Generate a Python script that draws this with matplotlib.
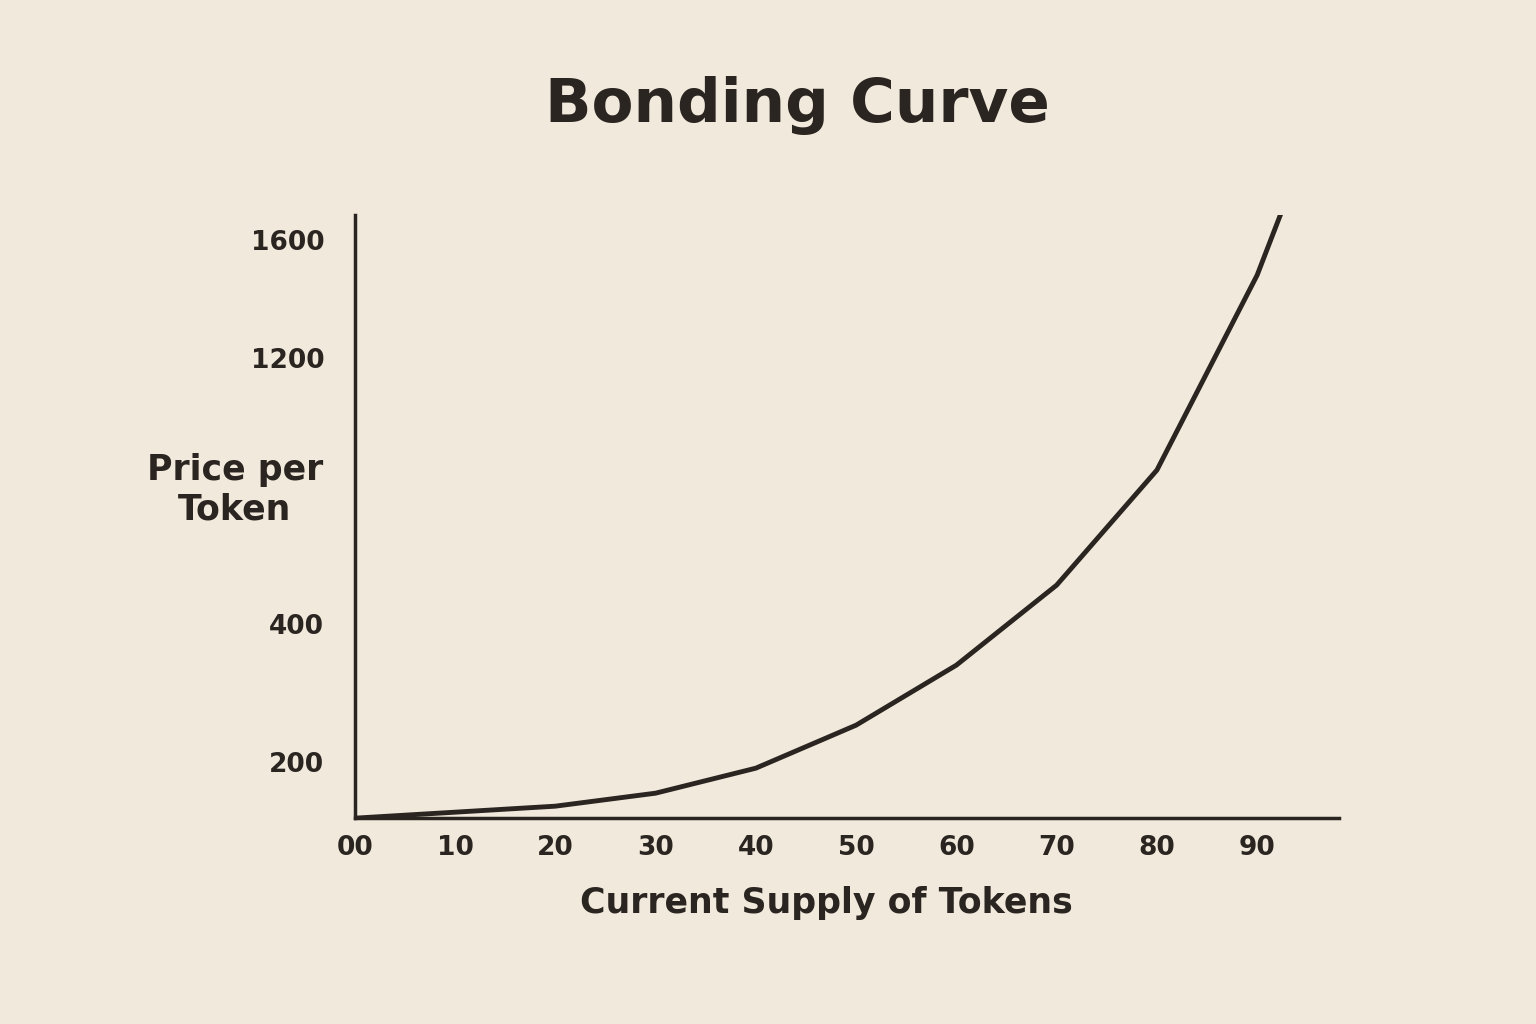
import matplotlib
matplotlib.use("Agg")
import matplotlib.pyplot as plt
import numpy as np
from matplotlib.ticker import FixedLocator, FixedFormatter

# Curve as drawn (y in the chart's own visual axis units)
supply = [0, 10, 20, 30, 40, 50, 60, 70, 80, 90, 92.5]
price_visual = [0, 6, 12, 25, 50, 93, 153, 233, 348, 543, 608]
x_ticks = [0, 10, 20, 30, 40, 50, 60, 70, 80, 90]
x_labels = ["00", "10", "20", "30", "40", "50", "60", "70", "80", "90"]
y_ticks = [56, 194, 460, 578]
y_labels = ["200", "400", "1200", "1600"]

bg = "#f0e9dc"
ink = "#2a2520"
plt.rcParams['font.family'] = ['DejaVu Sans']

fig = plt.figure(figsize=(15.36, 10.24), dpi=100, facecolor=bg)
ax = fig.add_axes([0.231, 0.201, 0.641, 0.589], facecolor=bg)

# smooth monotone interpolation for drawing
xs = np.linspace(0, 92.5, 400)
from numpy import interp
# cubic-ish via log-space interpolation for smoothness
ys = np.interp(xs, supply, price_visual)
ax.plot(supply, price_visual, color=ink, lw=3.5, solid_capstyle='round')

ax.set_xlim(0, 98.2)
ax.set_ylim(0, 603)
for s in ["top", "right"]:
    ax.spines[s].set_visible(False)
for s in ["left", "bottom"]:
    ax.spines[s].set_color(ink)
    ax.spines[s].set_linewidth(2.5)
ax.xaxis.set_major_locator(FixedLocator(x_ticks))
ax.xaxis.set_major_formatter(FixedFormatter(x_labels))
ax.yaxis.set_major_locator(FixedLocator(y_ticks))
ax.yaxis.set_major_formatter(FixedFormatter(y_labels))
ax.tick_params(length=0, labelsize=19, colors=ink, pad=12)
for t in ax.get_xticklabels() + ax.get_yticklabels():
    t.set_fontweight('semibold')
ax.tick_params(axis='y', pad=22)

fig.text(0.519, 0.897, "Bonding Curve", ha='center', va='center',
         fontsize=44, fontweight='bold', color=ink)
fig.text(0.538, 0.118, "Current Supply of Tokens", ha='center', va='center',
         fontsize=25, fontweight='semibold', color=ink)
fig.text(0.153, 0.522, "Price per\nToken", ha='center', va='center',
         fontsize=25, fontweight='semibold', color=ink, linespacing=1.2)

fig.savefig("out.png", dpi=100, facecolor=bg)
